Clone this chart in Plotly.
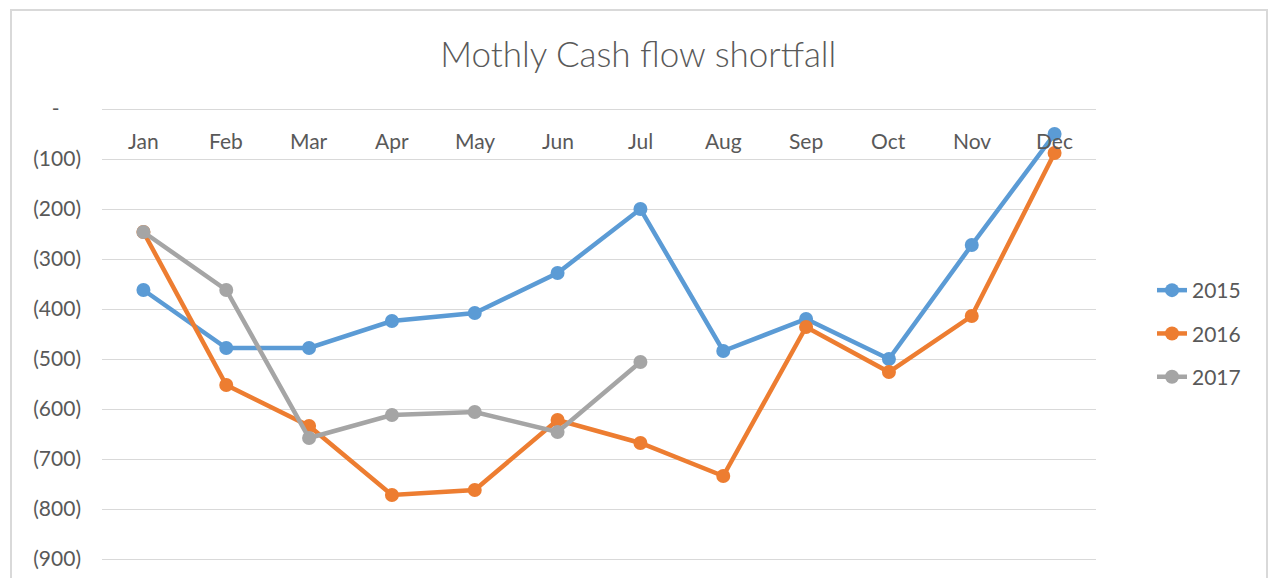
import plotly.graph_objects as go

months = ["Jan", "Feb", "Mar", "Apr", "May", "Jun", "Jul", "Aug", "Sep", "Oct", "Nov", "Dec"]
y2015 = [-362, -478, -478, -424, -408, -328, -200, -484, -420, -500, -272, -50]
y2016 = [-246, -552, -634, -772, -762, -622, -668, -734, -436, -526, -414, -88]
y2017 = [-246, -362, -658, -612, -606, -646, -506]
tick_vals = [0, -100, -200, -300, -400, -500, -600, -700, -800, -900]
tick_text = ["-\u00a0\u00a0\u00a0\u00a0", "(100)", "(200)", "(300)", "(400)", "(500)", "(600)", "(700)", "(800)", "(900)"]

series = [("2015", y2015, "#5B9BD5"), ("2016", y2016, "#ED7D31"), ("2017", y2017, "#A5A5A5")]

fig = go.Figure()
for name, vals, col in series:
    fig.add_trace(go.Scatter(
        x=months[:len(vals)], y=vals, name=name, legendgroup=name, mode="lines+markers",
        line=dict(color=col, width=4.5), marker=dict(color=col, size=14),
    ))

W, H = 1269, 578
L, R, T, B = 102, W - 1096, 99, 0
pw, ph = W - L - R, H - T - B
# 50 px per 100 units; 0 at y=109
ytop = (109 - T) * 2
ybot = -(H - 109) * 2

# month labels sit just under the zero line (Excel axis crossing at top)
annotations = [dict(text=m, x=m, xref="x", y=1 - (140 - T) / ph, yref="paper",
                    showarrow=False, xanchor="center", yanchor="middle",
                    font=dict(size=21, color="#595959")) for m in months]

fig.update_layout(
    width=W, height=H,
    margin=dict(l=L, r=R, t=T, b=B),
    paper_bgcolor="white", plot_bgcolor="white",
    font=dict(family="Lato, Open Sans, sans-serif", color="#595959", size=16),
    title=dict(text="Mothly Cash flow shortfall", x=0.503, xref="container", xanchor="center",
               y=1 - 55 / H, yanchor="middle",
               font=dict(size=35, color="#595959", weight=300)),
    showlegend=True,
    legend=dict(x=(1152 - L) / pw, xanchor="left", y=1 - (270 - T) / ph, yanchor="top",
                font=dict(size=21, color="#595959"), tracegroupgap=13,
                bgcolor="rgba(0,0,0,0)"),
    xaxis=dict(type="category", categoryarray=months, categoryorder="array",
               range=[-0.5, 11.5], showticklabels=False, showgrid=False,
               showline=False, zeroline=False, ticks=""),
    yaxis=dict(range=[ybot, ytop], tickvals=tick_vals, ticktext=tick_text, showgrid=True,
               gridcolor="#D9D9D9", gridwidth=1, zeroline=False, showline=False, ticks="",
               ticklabelstandoff=20, tickfont=dict(size=21, color="#595959")),
    annotations=annotations,
    shapes=[dict(type="rect", xref="paper", yref="paper",
                 x0=(11 - L) / pw, x1=(1267 - L) / pw, y0=-0.2, y1=1 + (T - 10) / ph,
                 line=dict(color="#D9D9D9", width=2), fillcolor="rgba(0,0,0,0)", layer="below")],
)

fig.write_html("out.html", config={"displayModeBar": False},
               post_script="document.body.style.margin='0px';")
